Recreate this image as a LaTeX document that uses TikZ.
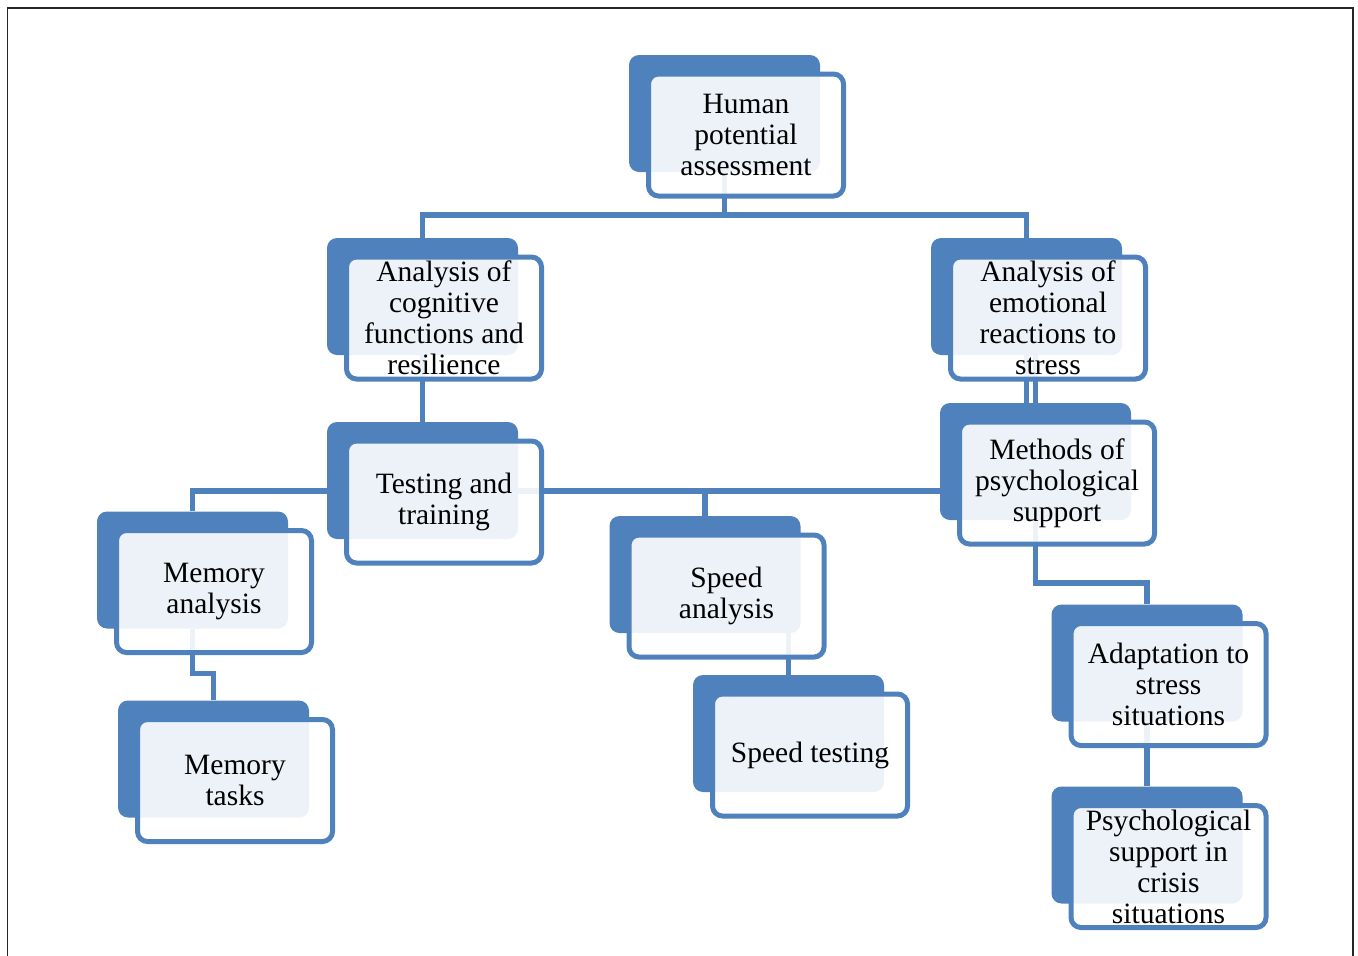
\documentclass[tikz,border=0pt]{standalone}
\usepackage{fontspec}
\setmainfont{Liberation Serif}
\usepackage[dvipsnames]{xcolor}
\definecolor{colorBox}{RGB}{79,129,189}
\colorlet{colorLink}{colorBox}
\colorlet{colorFrame}{black!85}
\usepackage{tikz}
\usetikzlibrary{calc, positioning}
\pgfdeclarelayer{background}
\pgfsetlayers{background,main}
\tikzset{
  backbox/.style={fill=colorBox, rounded corners=10pt, minimum width=191pt, minimum height=117pt, inner sep=0pt},
  frontbox/.style={draw=colorBox, line width=5pt, fill=white, fill opacity=0.9, text opacity=1, rounded corners=10pt,
    minimum width=195pt, minimum height=122pt, inner sep=0pt, align=center, shift={(21.5,21.5)},
    font=\fontsize{29.5}{31}\selectfont},
  link/.style={colorLink, line width=5.5pt}
}

\begin{document}
\begin{tikzpicture}[x=1pt, y=-1pt]
\useasboundingbox (0,0) rectangle (1358,956);
\draw[colorFrame, line width=1.5pt] (7.5,956) -- (7.5,8) -- (1353,8) -- (1353,956);

% boxes: blue back plate, then the framed card on top
\node[backbox] (hpa-b) at (724.5,113.5) {};
\node[frontbox] (hpa) at (hpa-b) {Human\\potential\\assessment};
\node[backbox] (cog-b) at (422.5,296.5) {};
\node[frontbox] (cog) at (cog-b) {Analysis of\\cognitive\\functions and\\resilience};
\node[backbox] (emo-b) at (1026.5,296.5) {};
\node[frontbox] (emo) at (emo-b) {Analysis of\\emotional\\reactions to\\stress};
\node[backbox] (tt-b) at (422.5,480.5) {};
\node[frontbox] (tt) at (tt-b) {Testing and\\training};
\node[backbox] (msp-b) at (1035.5,461.5) {};
\node[frontbox] (msp) at (msp-b) {Methods of\\psychological\\support};
\node[backbox] (mema-b) at (192.5,570) {};
\node[frontbox] (mema) at (mema-b) {Memory\\analysis};
\node[backbox] (memt-b) at (213.5,759) {};
\node[frontbox] (memt) at (memt-b) {Memory\\tasks};
\node[backbox] (spda-b) at (705,574.5) {};
\node[frontbox] (spda) at (spda-b) {Speed\\analysis};
\node[backbox] (spdt-b) at (788.5,733.5) {};
\node[frontbox] (spdt) at (spdt-b) {Speed testing};
\node[backbox] (adap-b) at (1147,663) {};
\node[frontbox] (adap) at (adap-b) {Adaptation to\\stress\\situations};
\node[backbox] (crisis-b) at (1147,845) {};
\node[frontbox] (crisis) at (crisis-b) {Psychological\\support in\\crisis\\situations};

% connectors under the cards
\begin{pgfonlayer}{background}
\coordinate (top-bus) at ($(hpa-b.south)+(0,43)$);
\coordinate (mid-bus) at (0,491);
\draw[link] (hpa-b.south) -- (top-bus);
\draw[link] (cog-b.north) |- (top-bus) -| (emo-b.north);
\draw[link] (cog-b) -- (tt-b);
\draw[link] (emo-b.south) -- (emo-b.south |- msp-b.north);
\draw[link] (msp-b.north) -- (msp-b.north |- emo-b.south);
\draw[link] (mema-b.north) |- (msp-b.west |- mid-bus);
\draw[link] (spda-b.north) -- (spda-b.north |- mid-bus);
\draw[link] (mema-b.south) -- ++(0,45) -| (memt-b.north);
\draw[link] (spda-b.south) -- ++(0,-8) -| (spdt-b.north);
\draw[link] (msp-b.south) -- ++(0,63) -| (adap-b.north);
\draw[link] (adap-b) -- (crisis-b);
\end{pgfonlayer}
\end{tikzpicture}
\end{document}
